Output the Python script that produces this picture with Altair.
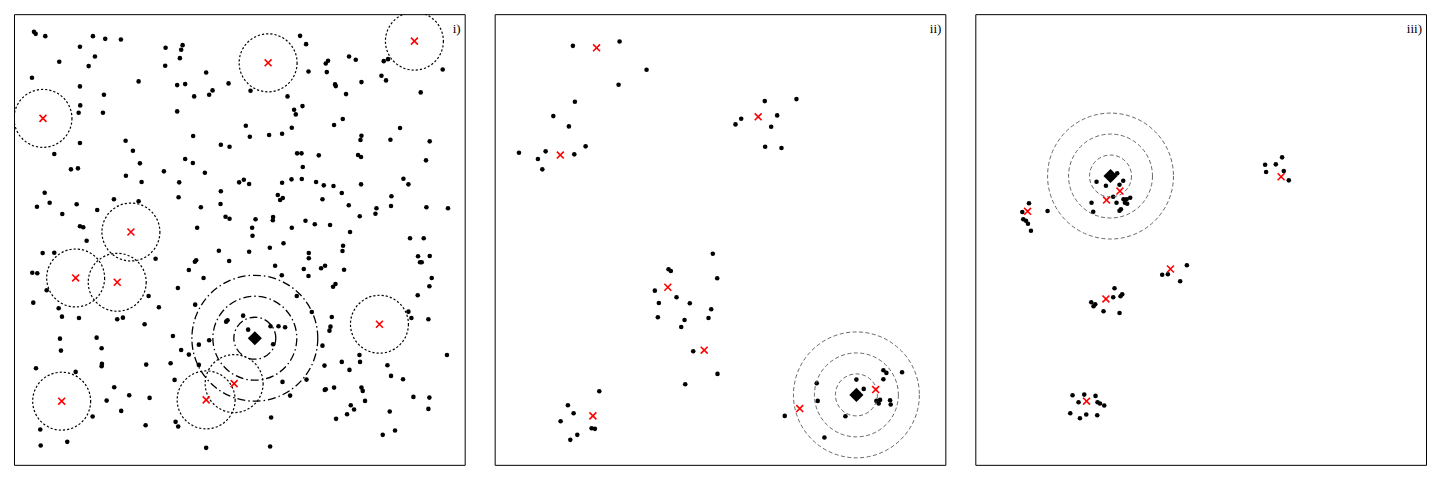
import altair as alt
import pandas as pd

# ---------------- Panel i) ----------------
p1_pts = [
    (20,17.7),(21.7,19.7),(31.3,22),(79,22),(91.3,24.7),(107,25.3),(66,32.7),(45.3,47.7),(81,42.3),(74.7,52),
    (18,63.7),(66,72.3),(90,80.7),(66.3,91.3),(64.7,98.7),(89,98.7),(124.7,67.3),(151.7,33.7),(168.7,31),(167.3,35.7),
    (166,44),(151.3,51.7),(192.3,58.3),(214.7,69.3),(163.3,71),(171.3,70),(180.3,82.3),(198.7,76.3),(195.3,80.7),(163.3,97.3),
    (179.3,122),(111.7,126.7),(119,136.7),(66,129),(40.3,140),(126,149.3),(57,155.3),(64,154.3),(112,161.7),(150,157.3),
    (127.7,168),(171.3,145),(179,149),(191,158.7),(207,130.7),(215.7,132.7),(225.3,168.3),(165.3,168.3),(30.7,178.7),(35.7,188.7),
    (23,192.7),(62.7,190.3),(48.3,200),(83.3,196),(100,185.3),(124.7,187.3),(164.7,183.3),(207,177.3),(206.7,190),(187,193.3),
    (211.7,202.7),(215.7,204.7),(183.3,213.7),(66,212.3),(69.3,213.3),(72.7,226.7),
    (286.3,21.7),(292.3,30),(335.3,42.3),(342,45.7),(312,49.3),(314.3,46.7),(294.7,57.3),(313,58),(370,47),(374.3,45),
    (367.7,61.7),(372.3,66.3),(347.7,68),(321.3,70.3),(322,72),(429,55.3),(407,78.3),(236.7,76.7),(273.7,82.3),(332.3,80),
    (288.7,92),(280.3,95.7),(282,100.3),(329,105),(320.3,111),(232,111.7),(236,122.7),(255.3,121),(268.3,119.7),(278,113.7),
    (386.3,114),(347.7,121.7),(346.7,126),(376.7,125.7),(416,127.3),(283.3,139.3),(287.7,139.3),(305,141.3),(344.3,141),(347.3,143),
    (412.3,146.3),(289,153),(230,165.7),(235.3,170),(268.3,168.7),(277.7,165.3),(288,165),(302.3,168),(310,171.3),(319.7,172),
    (347.3,170.3),(389.7,164.7),(394.7,170.3),(328,179),(264,181),(269,184),(266.3,186),(308.7,185.3),(377.7,182.3),(377.3,192),
    (335,191.3),(362.7,194.3),(361.7,199.7),(412.7,193.3),(434.3,194.3),(241.7,205.3),(238.3,213.7),(238.7,221.7),(259.3,203),(259,206.3),
    (291.7,206.7),(301,210.3),(316.3,211),(346,202.3),(278,213.7),(336.3,218),(396.3,224.3),(410,224.3),
    (28.7,239),(40.3,238.7),(18.3,258.7),(23.3,259.3),(32.7,276.3),(19.3,288.7),(44.7,294.3),(48,302.7),(65,304),(103.3,305.3),
    (109,303.7),(130.7,310.3),(134.7,282),(145,293.3),(141.7,244.7),(46,324.7),(47,336.7),(82.7,323.7),(87.7,334.3),(88,350),
    (87.7,352.3),(132.3,350.7),(22,354.3),(61.7,358),(100.3,373.3),(115.3,381.3),(92.7,386.7),(135.7,384),(107.3,397),(78.7,402.7),
    (131.7,411.3),(26.3,415.7),(26.7,431.7),(53.3,428),(205,236.7),(215.3,247),(181,247.7),(182.3,246.3),(175,256),(189.7,264),
    (164,274),(181.3,290.7),(212.3,307.7),(213.7,306.3),(195.3,326.3),(185,330.7),(159,322),(167.3,336),(175,340.7),(156.7,349.3),
    (185,351),(160.7,366),(161.7,408),(164.3,412.7),(192.3,434),
    (269.7,229.3),(235.3,237.7),(256,233.7),(295,239),(295,244.3),(329.3,231.7),(328.7,237),(261.3,251.7),(290,255),(294.7,262),
    (307.3,254.3),(311.3,251.7),(330.3,255.7),(268,261.3),(319.3,272.7),(321.7,270),(283,282),(404.3,242.3),(406.3,248.3),(408,248.3),
    (416,242),(418,264),(415.7,272.3),(404,281.3),(394.7,297.7),(397.7,304),(414.7,305.3),(229.3,301.7),(234.3,315.7),(256.7,312.3),
    (264.7,312.3),(271.3,313.3),(298,298),(318,303),(316.7,312.7),(315.7,316.7),(259.3,330.3),(308.7,331.7),(433.3,341),(345.7,341),
    (346.3,348),(328,348),(310.7,351.7),(335.7,356),(373.7,351.3),(377.3,362),(389.3,365.3),(292.7,365.7),(268.7,368),(311,376),
    (312,375.3),(320.3,373.7),(347.7,373.7),(349,377),(276.3,381.7),(351.3,387),(399.7,383),(415.7,383.7),(414.7,395),(337,391.3),
    (340.3,395.7),(333.3,400.3),(376,397.7),(322.3,405),(257.3,403.7),(381.3,416.7),(369,421),(256.3,432.7),
]
p1_x_marks = [(29,104.3),(117,218),(254.3,48.7),(400.7,27),(61.7,264),(103.3,268.3),(47.7,387.3),(192.3,386),(220.3,369.7),(365.7,310.3)]
p1_diamond = (241,324.3)

# ---------------- Panel ii) ----------------
p2_pts = [
    (78.3,31.7),(125,27.3),(152,55.7),(124,70.7),(80.3,87.7),(58.7,102),(74.3,112.3),(91,132.3),(24.3,138.7),(51,137.3),
    (43.3,145),(79.7,140.3),(47.7,155.3),
    (270.3,87),(282.7,101.3),(246.7,104.7),(241,110.3),(276.7,112.7),(270.7,132.7),(287,134),(302,85),
    (218.3,239.7),(174,255.3),(176.3,257),(222.7,264.3),(160.3,276.7),(164.3,289),(182,283.3),(195.3,289.3),(216.7,295.3),(163.3,303.3),
    (190,306),(186.7,313),(214,304),(198.7,337.3),(223,360),(190.7,370.3),
    (104.7,377.3),(73.3,391.3),(79,399.3),(66,407.3),(97,414.3),(100.3,415),(82.7,421),(75.7,426),
    (362,365.7),(369.3,375),(322.3,369.3),(323.3,387),(351,402.3),(290.3,402),(330,423.7),(389,356.3),(392,359),(407.7,358.3),
    (389,365.3),(382,387),(385.7,386),(384.3,389.7),(395.7,386.3),(396.3,390.7),
]
p2_x_marks = [(102,33.7),(65.7,141),(263.7,102.7),(173.3,273.3),(209.7,336.3),(98.3,402),(381.3,375.7),(305.3,394.7)]
p2_diamond = (362,381)

# ---------------- Panel iii) ----------------
p3_pts = [
    (121.3,167.7),(130.7,171.7),(142,159.3),(144.3,170.7),(148,166.7),(138,182.7),(116.3,188.7),(118,197.7),(141.3,188.7),(148.3,185.3),
    (151.3,185.3),(155,183.7),(149.7,188.7),(152,189.7),(144.3,196.7),(145.7,195.3),
    (53.7,189.3),(47,198),(72.3,197),(48,205.3),(50.7,206.7),(52.7,209.7),(55.7,216.7),
    (211.7,251.3),(187,260.7),(192.7,260.3),(205,267.3),
    (139.3,274.3),(138,283.3),(145.3,282.3),(147,280.3),(116,288.3),(118.3,292.3),(120,290.3),(128.3,297.3),(144.3,299),
    (97.3,381.3),(109,380.7),(120.3,382),(103.3,388.3),(122.3,388.3),(124.7,389.7),(129,391.7),(95,399.3),(104.7,404.3),(111,400.7),
    (122,401.3),
    (307,143.3),(290,150.7),(300.7,150.3),(291,158),(308.7,157),(313.7,166.3),
]
p3_x_marks = [(144.7,177),(131.3,186),(52.3,197.3),(195.3,255),(130.7,285),(111.3,387.3),(306,162.7)]
p3_diamond = (135.3,162)

labels = ["i)", "ii)", "iii)"]
ring_radii = [21, 42, 63]
x_mark_radius = 29

W = H = 451
xs = alt.Scale(domain=[0, 451], nice=False, zero=False)
ys = alt.Scale(domain=[0, 451], nice=False, zero=False, reverse=True)
X_PATH = "M-1,-1L1,1M-1,1L1,-1"


def df_of(pts):
    return pd.DataFrame({"x": [p[0] for p in pts], "y": [p[1] for p in pts]})


def panel(pts, xmarks, diamond, label, style):
    enc = dict(x=alt.X("x:Q", scale=xs, axis=None), y=alt.Y("y:Q", scale=ys, axis=None))
    dots = alt.Chart(df_of(pts)).mark_point(filled=True, color="black", size=21, opacity=1, clip=True).encode(**enc)
    rings_df = pd.DataFrame({"x": [diamond[0]] * len(ring_radii), "y": [diamond[1]] * len(ring_radii),
                             "s": [(2 * r) ** 2 for r in ring_radii]})
    if style == 1:
        ring_mark = alt.Chart(rings_df).mark_point(shape="circle", filled=False, color="black", strokeWidth=1.3,
                                                   strokeDash=[8, 3, 1.5, 3], opacity=1, clip=True)
    else:
        ring_mark = alt.Chart(rings_df).mark_point(shape="circle", filled=False, color="#555555", strokeWidth=0.9,
                                                   strokeDash=[4, 2.5], opacity=1, clip=True)
    rings = ring_mark.encode(size=alt.Size("s:Q", scale=None, legend=None), **enc)
    layers = [dots, rings]
    xdf = df_of(xmarks)
    if style == 1:
        circ = alt.Chart(xdf).mark_point(shape="circle", filled=False, color="black", strokeWidth=1.2,
                                         strokeDash=[2.2, 2], opacity=1, clip=True,
                                         size=(2 * x_mark_radius) ** 2).encode(**enc)
        layers.append(circ)
    xm = alt.Chart(xdf).mark_point(shape=X_PATH, filled=False, color="red", strokeWidth=1.6,
                                   size=48, opacity=1, clip=True).encode(**enc)
    dia = alt.Chart(pd.DataFrame({"x": [diamond[0]], "y": [diamond[1]]})).mark_point(
        shape="diamond", filled=True, color="black", size=200, opacity=1, clip=True).encode(**enc)
    txt = alt.Chart(pd.DataFrame({"t": [label]})).mark_text(
        align="right", baseline="top", font="Liberation Serif", fontSize=13, color="black").encode(
        x=alt.value(W - 4), y=alt.value(9), text="t:N")
    layers += [xm, dia, txt]
    return alt.layer(*layers).properties(width=W, height=H)


chart = alt.hconcat(
    panel(p1_pts, p1_x_marks, p1_diamond, labels[0], 1),
    panel(p2_pts, p2_x_marks, p2_diamond, labels[1], 2),
    panel(p3_pts, p3_x_marks, p3_diamond, labels[2], 2),
    spacing=28,
).properties(
    padding={"left": 5, "top": 5, "right": 5, "bottom": 5}
).configure_view(stroke="black", strokeWidth=1).resolve_scale(x="independent", y="independent")

chart.save("out.html", embed_options={"renderer": "svg", "actions": False})
